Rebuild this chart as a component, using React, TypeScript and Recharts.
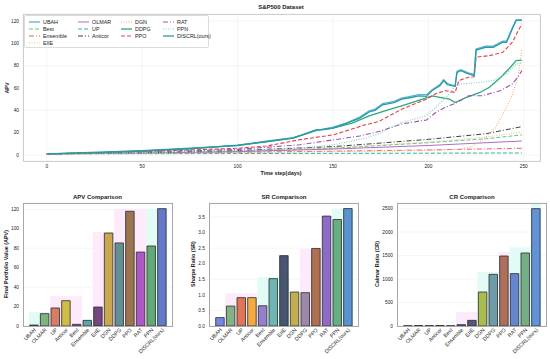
import React from 'react'
import { LineChart, Line, XAxis, YAxis, CartesianGrid, BarChart, Bar, Cell, ReferenceArea } from 'recharts'

const FONT = '"Liberation Sans", Arial, sans-serif'

// APV curves, [day, value]
const ubahCurve = [[0,1],[25,1.9],[50,3.5],[75,5.6],[100,8.6],[115,12.3],[129,15.5],[136,19],[141,21.8],[150,25],[157,28.6],[164,34],[169,39.5],[172,41],[176,46],[182,48],[186,51],[195,54],[199,54],[202,58.5],[206,63],[208,67.5],[210,64],[214,62],[215,75],[217,76.5],[221,73.5],[224,72],[225,95],[230,97.5],[234,97.5],[239,102],[241,102],[244,114],[246,121],[249,121]]
const bestCurve = [[0,1],[50,1.6],[100,3],[150,6],[200,11],[230,14.5],[249,18]]
const ensembleCurve = [[0,1],[50,1.5],[100,2.4],[150,3.4],[200,4.5],[249,6]]
const eiieCurve = [[0,1],[50,1.6],[100,3.2],[150,6.5],[200,11.5],[230,16],[249,20.5]]
const olmarCurve = [[0,1],[50,1.6],[100,3],[150,5.3],[200,8.5],[249,12.5]]
const upCurve = [[0,1],[100,1.3],[200,1.6],[249,1.8]]
const anticorCurve = [[0,1],[50,2],[100,4],[150,7.5],[169,9.9],[200,14],[230,19],[249,25.4]]
const dgnCurve = [[0,1],[50,1.3],[100,2],[150,3],[200,4],[215,5],[222,7],[228,13],[235,24],[241,43],[244,54],[247,70],[249,95]]
const ddpgCurve = [[0,1],[50,3.8],[100,8.4],[115,11.8],[129,15],[141,22],[150,24],[160,28.5],[169,35],[178,40],[186,44],[195,49],[202,53],[206,51.7],[211,50],[214,47],[220,51.7],[227,56],[232,60.7],[238,69.7],[243,78.6],[246,84.6],[249,85]]
const ppoCurve = [[0,1],[50,3],[100,6],[115,8],[132,13.5],[150,18],[167,27],[174,30],[186,41],[199,50],[204,55],[209,57.7],[214,56],[216,66.7],[221,69.7],[224,70],[225,87.6],[232,89],[239,92],[244,101],[249,117.5]]
const ratCurve = [[0,1],[50,2.5],[100,5],[115,6.9],[132,9],[150,13.5],[164,17],[174,21],[186,27.8],[199,31.4],[204,38.3],[209,42.8],[215,47],[221,53],[228,53],[238,57.7],[244,63.7],[247,70],[249,75.6]]
const ppnCurve = [[0,1],[50,2],[100,4],[132,6],[150,9],[167,15],[174,19],[180,24],[186,29],[199,35.3],[204,42.8],[211,54.7],[214,62],[218,63.7],[227,65],[234,66.7],[241,72.6],[246,81.6],[249,82.5]]
const discrlCurve = [[0,1],[25,1.8],[50,3.6],[75,5.5],[100,8.8],[115,12],[122,13.5],[129,15],[136,19.4],[141,22.4],[145,22.8],[150,24],[157,28.4],[164,33],[169,38.5],[172,40],[176,45],[182,47],[186,50],[191,51.5],[195,53],[199,52.5],[202,57.7],[206,62],[208,66.7],[210,63],[214,61.3],[215,74],[217,75.6],[221,72.6],[224,71],[225,94],[230,96.5],[234,96.5],[239,101],[241,101],[244,113],[246,120.5],[249,120.5]]

const dayTicks = [0, 50, 100, 150, 200, 250]
const apvTicks = [0, 20, 40, 60, 80, 100, 120]

// bar panels
const methods = ['UBAH', 'OLMAR', 'UP', 'Anticor', 'Best', 'Ensemble', 'EIIE', 'DGN', 'DDPG', 'PPO', 'RAT', 'PPN', 'DISCRL(ours)']
const apvFinal = [1.0, 12.7, 18.5, 26, 1.7, 5.8, 19.5, 95.6, 85.4, 118, 76, 82.3, 120.7]
const sharpe = [0.27, 0.64, 0.91, 0.91, 0.65, 1.52, 2.26, 1.09, 1.07, 2.49, 3.53, 3.42, 3.77]
const calmar = [5, 10, 8, 10, 5, 28, 120, 724, 1100, 1491, 1115, 1555, 2500]
const srTicks = [0, 0.5, 1, 1.5, 2, 2.5, 3, 3.5]
const crTicks = [0, 500, 1000, 1500, 2000, 2500]

const apvColors = ['#4a5fc0', '#6aa86a', '#d06a4a', '#c8b428', '#8040a0', '#3a9a9a', '#5a2a6a', '#c09a30', '#4a8080', '#8a6030', '#a040b8', '#4a9a60', '#5060c0']
const srColors = ['#6070e0', '#70a870', '#d8603a', '#f0a020', '#8868c8', '#5aa8a8', '#2a3858', '#b8a030', '#8a7898', '#a05a30', '#7a50c0', '#50a070', '#4080c8']
const crColors = ['#3a4a8a', '#5a8a5a', '#b06a4a', '#a0903a', '#704a90', '#2a6a7a', '#3a3a6a', '#a0b030', '#5a8a9a', '#a05a40', '#5070c8', '#60a070', '#4a80d0']

const series = [
  { name: 'UBAH', pts: ubahCurve, color: '#5ab2d6', dash: undefined, w: 1.3 },
  { name: 'Best', pts: bestCurve, color: '#52c98a', dash: '4 2', w: 1 },
  { name: 'Ensemble', pts: ensembleCurve, color: '#e8606a', dash: '5 2 1 2', w: 1 },
  { name: 'EIIE', pts: eiieCurve, color: '#f5c08a', dash: '1 1.5', w: 1.1 },
  { name: 'OLMAR', pts: olmarCurve, color: '#b36bc9', dash: undefined, w: 1 },
  { name: 'UP', pts: upCurve, color: '#2bb89e', dash: '4 2', w: 1 },
  { name: 'Anticor', pts: anticorCurve, color: '#3a3f4a', dash: '5 2 1 2', w: 1 },
  { name: 'DGN', pts: dgnCurve, color: '#f0b080', dash: '1 1.5', w: 1.1 },
  { name: 'DDPG', pts: ddpgCurve, color: '#2aa87e', dash: undefined, w: 1.3 },
  { name: 'PPO', pts: ppoCurve, color: '#e0404a', dash: '4 2', w: 1.1 },
  { name: 'RAT', pts: ratCurve, color: '#a050b0', dash: '5 2 1 2', w: 1.1 },
  { name: 'PPN', pts: ppnCurve, color: '#7ed8b8', dash: '1 1.5', w: 1.2 },
  { name: 'DISCRL(ours)', pts: discrlCurve, color: '#2a9aa5', dash: undefined, w: 1.3 },
]

const Txt = ({ x, y, children, size = 5.5, bold = false, rotate = 0 }: any) => (
  <div style={{
    position: 'absolute', left: x, top: y, transform: `translate(-50%, -50%) rotate(${rotate}deg)`,
    fontFamily: FONT, fontSize: size, fontWeight: bold ? 'bold' : 'normal', color: '#222', whiteSpace: 'nowrap', lineHeight: 1,
  }}>{children}</div>
)

const Frame = ({ x, y, w, h, color, bw }: any) => (
  <div style={{ position: 'absolute', left: x, top: y, width: w, height: h, border: `${bw}px solid ${color}`, boxSizing: 'border-box', pointerEvents: 'none' }} />
)

const Legend = () => {
  const colX = [28, 77, 120, 162]
  const rowY = [21, 28, 35, 42.3]
  return (
    <div style={{ position: 'absolute', left: 24, top: 15, width: 185, height: 33, background: 'rgba(255,255,255,0.85)', border: '1px solid #dcdcdc', borderRadius: 2, boxSizing: 'border-box' }}>
      {series.map((s, i) => {
        const col = i < 4 ? 0 : 1 + Math.floor((i - 4) / 3)
        const row = i < 4 ? i : (i - 4) % 3
        return (
          <div key={s.name} style={{ position: 'absolute', left: colX[col] - 24, top: rowY[row] - 15 - 4, height: 8, display: 'flex', alignItems: 'center' }}>
            <svg width={11} height={8}><line x1={0} y1={4} x2={11} y2={4} stroke={s.color} strokeWidth={s.w} strokeDasharray={s.dash} /></svg>
            <span style={{ marginLeft: 3, fontFamily: FONT, fontSize: 5.4, color: '#222' }}>{s.name}</span>
          </div>
        )
      })}
    </div>
  )
}

const RotTick = ({ x, y, payload }: any) => (
  <text x={x + 1} y={y} dy="0.35em" transform={`rotate(-45 ${x + 1} ${y})`} textAnchor="end" fontSize={5.3} fontFamily={FONT} fill="#222">{payload.value}</text>
)

const Panel = ({ left, values, colors, top, ticks, fmt, shades }: any) => {
  const data = methods.map((m, i) => ({ m, v: values[i] }))
  return (
    <div style={{ position: 'absolute', left, top: 190 }}>
      <BarChart width={183} height={169} data={data} margin={{ top: 13, right: 10, bottom: 0, left: 3 }} barSize={8.5}>
        <CartesianGrid vertical={false} stroke="#eeeeee" strokeWidth={0.6} />
        {shades.map((s: any, i: number) => (
          <ReferenceArea key={i} x1={s[0]} x2={s[1]} y1={0} y2={s[2]} fill={s[3]} fillOpacity={1} stroke="none" ifOverflow="hidden" zIndex={-10} />
        ))}
        <XAxis dataKey="m" type="category" interval={0} padding={{ left: 5.7, right: 5.7 }} height={33} tick={<RotTick />} tickLine={false} axisLine={false} tickSize={0} tickMargin={3} />
        <YAxis type="number" width={20} domain={[0, top]} ticks={ticks} tickFormatter={fmt} allowDataOverflow tick={{ fontSize: 4.8, fontFamily: FONT, fill: '#222' }} tickLine={false} axisLine={false} tickSize={3} tickMargin={1} />
        <Bar dataKey="v" stroke="#2a2a2a" strokeWidth={0.8} isAnimationActive={false}>
          {data.map((d, i) => <Cell key={d.m} fill={colors[i]} fillOpacity={0.85} />)}
        </Bar>
      </BarChart>
    </div>
  )
}

const PINK = '#fdeafa'
const CYAN = '#e2fbf7'

export default function App() {
  return (
    <div style={{ position: 'absolute', left: 0, top: 0, width: 550, height: 359, overflow: 'hidden', background: '#fff' }}>
      <div style={{ position: 'absolute', left: 0, top: 0 }}>
        <LineChart width={550} height={175} margin={{ top: 14, right: 10, bottom: 0, left: 8 }}>
          <CartesianGrid stroke="#ededed" strokeWidth={0.6} />
          <XAxis type="number" dataKey="day" domain={[-12.5, 258.5]} ticks={dayTicks} allowDataOverflow height={14}
            tick={{ fontSize: 4.8, fontFamily: FONT, fill: '#222' }} tickLine={false} axisLine={false} tickSize={3} tickMargin={1} />
          <YAxis type="number" domain={[-5.4, 126.3]} ticks={apvTicks} allowDataOverflow width={15}
            tick={{ fontSize: 4.8, fontFamily: FONT, fill: '#222' }} tickLine={false} axisLine={false} tickSize={3} tickMargin={1} />
          {series.map(s => (
            <Line key={s.name} data={s.pts.map(p => ({ day: p[0], v: p[1] }))} dataKey="v" type="linear" dot={false}
              stroke={s.color} strokeWidth={s.w} strokeDasharray={s.dash} isAnimationActive={false} />
          ))}
        </LineChart>
      </div>
      <Frame x={22.5} y={13.5} w={518} h={148} color="#cfcfcf" bw={1.5} />
      <Legend />
      <Txt x={281} y={7} size={6} bold>S&amp;P500 Dataset</Txt>
      <Txt x={281} y={174} size={5.4} bold>Time step(days)</Txt>
      <Txt x={8} y={88} size={5.4} bold rotate={-90}>APV</Txt>

      <Panel left={0} values={apvFinal} colors={apvColors} top={126.5} ticks={apvTicks} fmt={(v: number) => String(v)}
        shades={[['UBAH', 'OLMAR', 14.4, CYAN], ['UP', 'Best', 30.5, PINK], ['EIIE', 'DGN', 96.7, PINK], ['DDPG', 'RAT', 120.7, PINK], ['PPN', 'DISCRL(ours)', 120.7, CYAN]]} />
      <Panel left={186} values={sharpe} colors={srColors} top={3.95} ticks={srTicks} fmt={(v: number) => v.toFixed(1)}
        shades={[['OLMAR', 'Anticor', 1.04, PINK], ['Best', 'EIIE', 1.57, CYAN], ['DDPG', 'PPO', 2.48, PINK], ['PPN', 'DISCRL(ours)', 3.77, CYAN]]} />
      <Panel left={374} values={calmar} colors={crColors} top={2620} ticks={crTicks} fmt={(v: number) => String(v)}
        shades={[['Ensemble', 'EIIE', 300, PINK], ['DGN', 'DDPG', 1150, CYAN], ['PPO', 'PPO', 1580, PINK], ['RAT', 'PPN', 1680, CYAN], ['DISCRL(ours)', 'DISCRL(ours)', 2620, CYAN]]} />

      <Frame x={22.5} y={202.5} w={150} h={124} color="#a8a8a8" bw={1} />
      <Frame x={208.5} y={202.5} w={150} h={124} color="#a8a8a8" bw={1} />
      <Frame x={396.5} y={202.5} w={150} h={124} color="#a8a8a8" bw={1} />
      <Txt x={97.5} y={197} size={6} bold>APV Comparison</Txt>
      <Txt x={284} y={197} size={6} bold>SR Comparison</Txt>
      <Txt x={472} y={197} size={6} bold>CR Comparison</Txt>
      <Txt x={7} y={264} size={5.4} bold rotate={-90}>Final Portfolio Value (APV)</Txt>
      <Txt x={194} y={264} size={5.4} bold rotate={-90}>Sharpe Ratio (SR)</Txt>
      <Txt x={378} y={264} size={5.4} bold rotate={-90}>Calmar Ratio (CR)</Txt>
    </div>
  )
}
